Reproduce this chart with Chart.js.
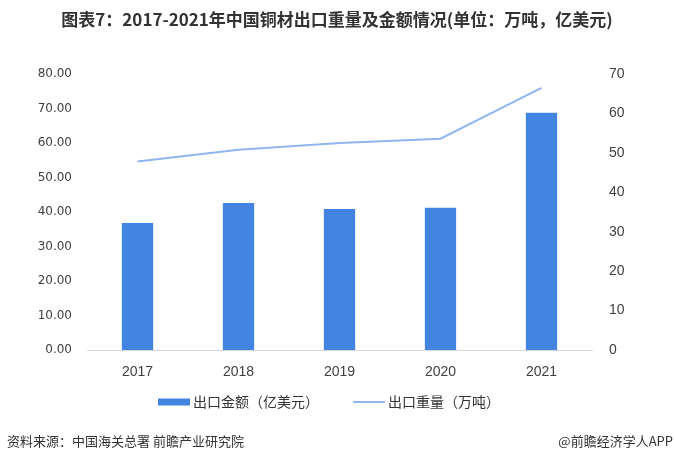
<!DOCTYPE html>
<html>
<head>
<meta charset="utf-8">
<script src="https://cdn.jsdelivr.net/npm/chart.js@4/dist/chart.umd.min.js"></script>
<style>
  html, body { margin: 0; padding: 0; background: #fff; }
  #wrap { position: relative; width: 675px; height: 464px; }
</style>
</head>
<body>
<div id="wrap"><canvas id="myChart" width="675" height="464"></canvas></div>
<script>
// data
const years = ['2017', '2018', '2019', '2020', '2021'];
const exportValue = [36.8, 42.6, 40.9, 41.2, 68.8];   // 亿美元, left axis
const exportWeight = [47.8, 50.8, 52.5, 53.6, 66.5];  // 万吨, right axis

const titleText = '图表7：2017-2021年中国铜材出口重量及金额情况(单位：万吨，亿美元)';
const sourceText = '资料来源：中国海关总署 前瞻产业研究院';
const brandText = '@前瞻经济学人APP';

const barColor = '#4284e0';
const lineColor = '#8fb6ee';

// title, legend and footer texts
const textPlugin = {
  id: 'texts',
  afterDraw(chart) {
    const ctx = chart.ctx;
    ctx.save();
    ctx.fillStyle = '#333';
    ctx.textBaseline = 'middle';
    ctx.textAlign = 'center';
    ctx.font = 'bold 17px "Noto Sans CJK SC"';
    ctx.fillText(titleText, 337, 20);

    // legend: bar item first, then line item
    const items = [chart.data.datasets[1], chart.data.datasets[0]];
    ctx.font = '14px "Noto Sans CJK SC"';
    ctx.textAlign = 'left';
    const y = 402;
    let x = 158;
    items.forEach((ds, i) => {
      if (ds.type === 'bar') {
        ctx.fillStyle = ds.backgroundColor;
        ctx.fillRect(x, y - 3.5, 32, 7);
      } else {
        ctx.fillStyle = ds.borderColor;
        ctx.fillRect(x, y - 1, 32, 2);
      }
      x += 35;
      ctx.fillStyle = '#333';
      ctx.fillText(ds.label, x, y);
      x += ctx.measureText(ds.label).width + 34;
    });

    ctx.font = '13px "Noto Sans CJK SC"';
    ctx.fillStyle = '#333';
    ctx.textAlign = 'left';
    ctx.fillText(sourceText, 7, 441);
    ctx.textAlign = 'right';
    ctx.fillText(brandText, 673, 441);
    ctx.restore();
  }
};

const ctx = document.getElementById('myChart').getContext('2d');
const myChart = new Chart(ctx, {
  type: 'bar',
  data: {
    labels: years,
    datasets: [{
      type: 'line',
      label: '出口重量（万吨）',
      data: exportWeight,
      yAxisID: 'y2',
      borderColor: lineColor,
      borderWidth: 2,
      pointRadius: 0,
      fill: false,
      tension: 0,
      order: 0,
    }, {
      type: 'bar',
      label: '出口金额（亿美元）',
      data: exportValue,
      yAxisID: 'y',
      backgroundColor: barColor,
      barPercentage: 1,
      categoryPercentage: 0.31,
      order: 1,
    }],
  },
  options: {
    responsive: false,
    animation: false,
    layout: {
      padding: { top: 74, bottom: 76, left: 0, right: 0 },
    },
    plugins: {
      title: { display: false },
      tooltip: { enabled: false },
      legend: { display: false },
    },
    scales: {
      x: {
        grid: { display: false },
        border: { display: true, color: '#d9d9d9' },
        ticks: {
          color: '#404040',
          font: { size: 14, family: '"Liberation Sans"' },
          padding: 6,
        },
        afterFit(scale) { scale.height = 38; },
      },
      y: {
        position: 'left',
        min: 0,
        max: 80,
        grid: { display: false },
        border: { display: false },
        ticks: {
          stepSize: 10,
          color: '#404040',
          font: { size: 12, family: '"DejaVu Sans"' },
          padding: 7,
          callback: v => v.toFixed(2),
        },
        afterFit(scale) { scale.width = 87; },
      },
      y2: {
        position: 'right',
        min: 0,
        max: 70,
        grid: { display: false },
        border: { display: false },
        ticks: {
          stepSize: 10,
          color: '#404040',
          font: { size: 14, family: '"Liberation Sans"' },
          padding: 9,
        },
        afterFit(scale) { scale.width = 83; },
      },
    },
  },
  plugins: [textPlugin],
});
</script>
</body>
</html>
